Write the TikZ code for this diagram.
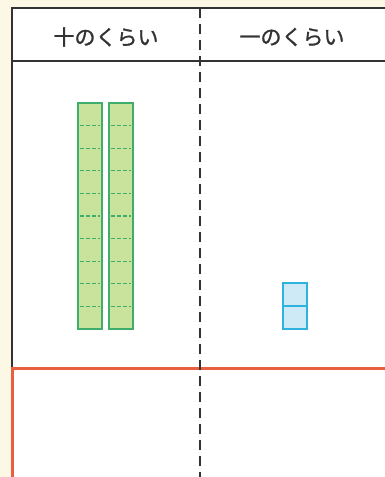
\documentclass[tikz,border=0pt]{standalone}
\usepackage{fontspec}
\newfontfamily\cjk[FakeBold=1.2]{Noto Sans CJK JP}
\definecolor{cream}{HTML}{FDF8E6}
\definecolor{gfill}{HTML}{C9E39C}
\definecolor{gline}{HTML}{3FAE6C}
\definecolor{bfill}{HTML}{CFEAF7}
\definecolor{bline}{HTML}{2EB3DF}
\definecolor{redline}{HTML}{E8603F}
\definecolor{ink}{HTML}{333333}
\tikzset{
  frame/.style={draw=ink, line width=2pt},
  divider/.style={draw=ink, line width=1.8pt, dash pattern=on 10pt off 6pt},
  rod/.style={draw=gline, fill=gfill, line width=1.5pt},
  rodtick/.style={draw=gline, line width=1.2pt, dash pattern=on 4pt off 2pt},
  cube/.style={draw=bline, fill=bfill, line width=1.5pt},
  head/.style={font=\cjk\fontsize{21}{23}\selectfont, text=ink, inner sep=0pt}
}
\begin{document}
\begin{tikzpicture}[x=1pt,y=-1pt]
\useasboundingbox (0,0) rectangle (385,477);
\fill[cream] (0,0) rectangle (385,477);
\fill[white] (12,8) rectangle (385,477);
% frame
\draw[frame] (385,8) -- (12,8) -- (12,368);
\draw[frame] (12,61) -- (385,61);
\draw[draw=redline, line width=3pt] (12,477) -- (12,368) -- (385,368);
\draw[divider] (200,8) -- (200,477);
% headers
\node[head] (ten) at (106,37) {十のくらい};
\node[head] (one) at (292,37) {一のくらい};
% rods
\foreach \x in {78,109} {
  \draw[rod] (\x,103) rectangle ++(24,226);
  \foreach \i in {1,...,9} {
    \draw[rodtick] (\x+2,103+\i*22.6) -- (\x+22,103+\i*22.6);
  }
}
% cubes
\draw[cube] (283,283) rectangle (307,306);
\draw[cube] (283,306) rectangle (307,329);
\end{tikzpicture}
\end{document}
